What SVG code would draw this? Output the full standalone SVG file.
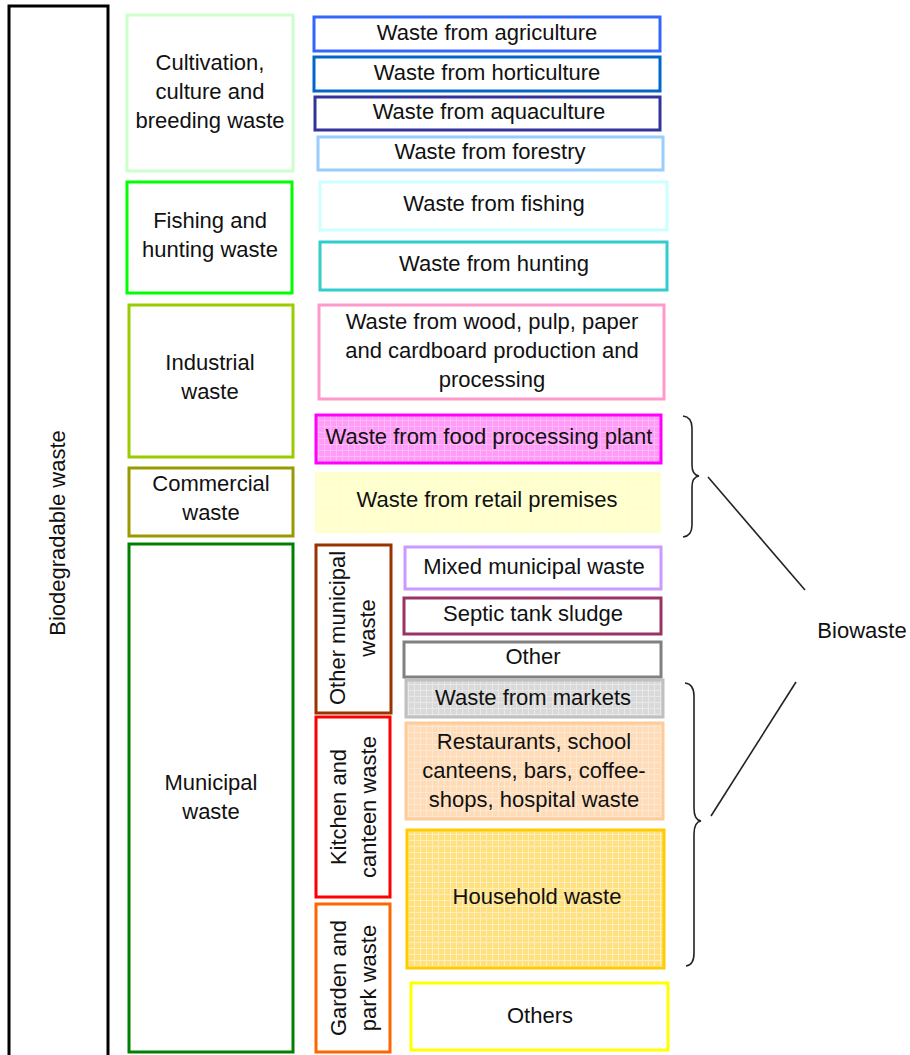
<svg xmlns="http://www.w3.org/2000/svg" width="910" height="1055" viewBox="0 0 910 1055">
<defs>
<pattern id="gPink" width="6" height="6" patternUnits="userSpaceOnUse"><rect width="6" height="6" fill="#ff9cf7"/><path d="M0 0.5H6M0.5 0V6" stroke="#ffb8fa" stroke-width="1"/></pattern>
<pattern id="gYellow" width="6" height="6" patternUnits="userSpaceOnUse"><rect width="6" height="6" fill="#ffffca"/><path d="M0 0.5H6M0.5 0V6" stroke="#ffffdc" stroke-width="1"/></pattern>
<pattern id="gGray" width="6" height="6" patternUnits="userSpaceOnUse"><rect width="6" height="6" fill="#d9d9d9"/><path d="M0 0.5H6M0.5 0V6" stroke="#e8e8e8" stroke-width="1"/></pattern>
<pattern id="gPeach" width="6" height="6" patternUnits="userSpaceOnUse"><rect width="6" height="6" fill="#ffdcb8"/><path d="M0 0.5H6M0.5 0V6" stroke="#ffe8d2" stroke-width="1"/></pattern>
<pattern id="gGold" width="6" height="6" patternUnits="userSpaceOnUse"><rect width="6" height="6" fill="#ffe07e"/><path d="M0 0.5H6M0.5 0V6" stroke="#ffefbc" stroke-width="1"/></pattern>
</defs>
<style>
.b{fill:#fff;stroke-width:3}
text{font-family:"Liberation Sans",Arial,sans-serif;font-size:22px;fill:#111;text-anchor:middle}
.c{fill:none;stroke:#222;stroke-width:1.6}
</style>
<rect width="910" height="1055" fill="#fff"/>

<g id="biodegradable"><rect class="b" x="9" y="6" width="99" height="1060" stroke="#000"/><text transform="translate(65,533) rotate(-90)">Biodegradable waste</text></g>

<g id="cultivation"><rect class="b" x="127" y="15" width="166" height="156" stroke="#ccffcc"/><text x="210" y="70">Cultivation,</text><text x="210" y="99">culture and</text><text x="210" y="128">breeding waste</text></g>
<g id="fishing-hunting"><rect class="b" x="127" y="182" width="165" height="111" stroke="#00ff00"/><text x="210" y="228">Fishing and</text><text x="210" y="257">hunting waste</text></g>
<g id="industrial"><rect class="b" x="129" y="305" width="164" height="152" stroke="#99cc00"/><text x="210" y="370">Industrial</text><text x="210" y="399">waste</text></g>
<g id="commercial"><rect class="b" x="129" y="468" width="164" height="68" stroke="#999900"/><text x="211" y="491">Commercial</text><text x="211" y="520">waste</text></g>
<g id="municipal"><rect class="b" x="129" y="544" width="164" height="508" stroke="#008000"/><text x="211" y="790">Municipal</text><text x="211" y="819">waste</text></g>

<g id="agriculture"><rect class="b" x="314" y="17" width="346" height="34" stroke="#3366ff"/><text x="487" y="40">Waste from agriculture</text></g>
<g id="horticulture"><rect class="b" x="314" y="57" width="346" height="34" stroke="#0066cc"/><text x="487" y="80">Waste from horticulture</text></g>
<g id="aquaculture"><rect class="b" x="315" y="97" width="345" height="33" stroke="#333399"/><text x="489" y="119">Waste from aquaculture</text></g>
<g id="forestry"><rect class="b" x="318" y="137" width="345" height="33" stroke="#99ccff"/><text x="490" y="159">Waste from forestry</text></g>
<g id="fishing"><rect class="b" x="320" y="182" width="347" height="48" stroke="#ccffff"/><text x="494" y="211">Waste from fishing</text></g>
<g id="hunting"><rect class="b" x="320" y="242" width="347" height="48" stroke="#33cccc"/><text x="494" y="271">Waste from hunting</text></g>
<g id="wood"><rect class="b" x="319" y="305" width="345" height="94" stroke="#ff99cc"/><text x="492" y="329">Waste from wood, pulp, paper</text><text x="492" y="358">and cardboard production and</text><text x="492" y="387">processing</text></g>
<g id="food"><rect class="b" x="316" y="415" width="345" height="48" stroke="#ff00ff" style="fill:url(#gPink)"/><text x="489" y="444">Waste from food processing plant</text></g>
<g id="retail"><rect class="b" x="315" y="472" width="346" height="61" stroke="none" style="fill:url(#gYellow)"/><text x="487" y="507">Waste from retail premises</text></g>

<g id="other-municipal"><rect class="b" x="316" y="545" width="75" height="168" stroke="#993300"/><text transform="translate(345,628) rotate(-90)">Other municipal</text><text transform="translate(375,628) rotate(-90)">waste</text></g>
<g id="kitchen"><rect class="b" x="316" y="717" width="74" height="180" stroke="#ff0000"/><text transform="translate(346,807) rotate(-90)">Kitchen and</text><text transform="translate(376,807) rotate(-90)">canteen waste</text></g>
<g id="garden"><rect class="b" x="316" y="904" width="74" height="148" stroke="#ff6600"/><text transform="translate(346,978) rotate(-90)">Garden and</text><text transform="translate(376,978) rotate(-90)">park waste</text></g>

<g id="mixed"><rect class="b" x="405" y="547" width="256" height="42" stroke="#cc99ff"/><text x="534" y="574">Mixed municipal waste</text></g>
<g id="septic"><rect class="b" x="404" y="598" width="257" height="36" stroke="#993366"/><text x="533" y="621">Septic tank sludge</text></g>
<g id="other"><rect class="b" x="404" y="642" width="257" height="35" stroke="#808080"/><text x="533" y="664">Other</text></g>
<g id="markets"><rect class="b" x="406" y="680" width="257" height="37" stroke="#c0c0c0" style="fill:url(#gGray)"/><text x="533" y="705">Waste from markets</text></g>
<g id="restaurants"><rect class="b" x="406" y="723" width="257" height="96" stroke="#ffcc99" style="fill:url(#gPeach)"/><text x="534" y="749">Restaurants, school</text><text x="534" y="778">canteens, bars, coffee-</text><text x="534" y="807">shops, hospital waste</text></g>
<g id="household"><rect class="b" x="407" y="830" width="257" height="138" stroke="#ffcc00" style="fill:url(#gGold)"/><text x="537" y="904">Household waste</text></g>
<g id="others"><rect class="b" x="411" y="983" width="257" height="67" stroke="#ffff00"/><text x="540" y="1023">Others</text></g>

<g id="biowaste"><text x="862" y="638">Biowaste</text></g>

<g id="connectors">
<path class="c" d="M683 416 Q692 417 692 428 L692 465 Q692 475 699 476 Q692 477 692 487 L692 525 Q692 536 683 537"/>
<path class="c" d="M685 683 Q694 684 694 696 L694 808 Q694 820 701 821 Q694 822 694 834 L694 953 Q694 965 686 966"/>
<line class="c" x1="708" y1="477" x2="805" y2="590"/>
<line class="c" x1="711" y1="816" x2="796" y2="682"/>
</g>
</svg>
